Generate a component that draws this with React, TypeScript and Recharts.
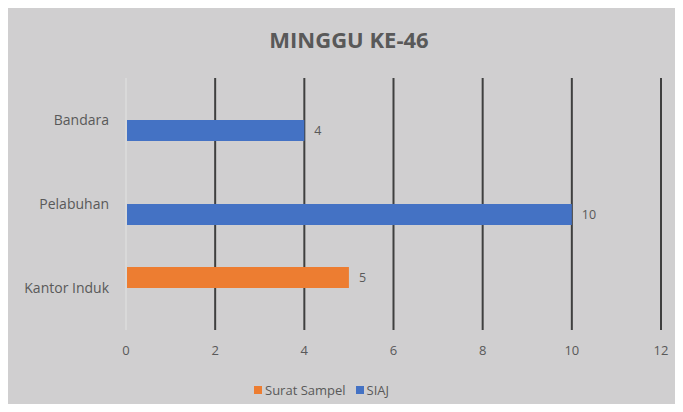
import { BarChart, Bar, XAxis, YAxis, CartesianGrid, LabelList } from "recharts";

const categories = ["Bandara", "Pelabuhan", "Kantor Induk"];
const suratSampel = [null, null, 5];
const siaj = [4, 10, null];
const xTicks = [0, 2, 4, 6, 8, 10, 12];

const data = categories.map((name, i) => ({
  name,
  "Surat Sampel": suratSampel[i],
  SIAJ: siaj[i],
}));

const ORANGE = "#ed7d31";
const BLUE = "#4472c4";
const TEXT = "#595959";
const FONT = "'Open Sans', sans-serif";

const renderValue = (props: any) => {
  const { x, y, width, height, value } = props;
  if (value === null || value === undefined) return null;
  return (
    <text
      x={x + width + 10}
      y={y + height / 2}
      dy="0.35em"
      fill={TEXT}
      fontSize={12.5}
      fontFamily={FONT}
    >
      {value}
    </text>
  );
};

export default function App() {
  return (
    <div
      style={{
        position: "relative",
        margin: -8,
        width: 683,
        height: 412,
        overflow: "hidden",
        background: "linear-gradient(90deg, #c6dcd7 0%, #eef3f2 30%, #f4f6f6 100%)",
        fontFamily: FONT,
      }}
    >
      <div
        style={{
          position: "absolute",
          left: 6,
          top: 7,
          width: 677,
          height: 405,
          background: "#d0cfd0",
        }}
      >
        <div
          style={{
            position: "absolute",
            left: 0,
            top: 17,
            width: 686,
            textAlign: "center",
            fontSize: 22,
            fontWeight: 700,
            color: TEXT,
          }}
        >
          MINGGU KE-46
        </div>
        <BarChart
          width={677}
          height={405}
          data={data}
          layout="vertical"
          margin={{ top: 71, right: 22, bottom: 52, left: 10 }}
          barCategoryGap="25%"
          barGap={0}
        >
          <CartesianGrid horizontal={false} stroke="#3f3f3f" strokeWidth={2} />
          <XAxis
            type="number"
            domain={[0, 12]}
            ticks={xTicks}
            axisLine={false}
            tickLine={false}
            tickMargin={10}
            height={30}
            tick={{ fill: TEXT, fontSize: 13, fontFamily: FONT }}
          />
          <YAxis
            type="category"
            dataKey="name"
            width={110}
            tickLine={false}
            tickSize={0}
            tickMargin={17}
            axisLine={{ stroke: "#d9d9d9", strokeWidth: 2 }}
            tick={{ fill: TEXT, fontSize: 14, fontFamily: FONT }}
          />
          <Bar dataKey="Surat Sampel" fill={ORANGE} isAnimationActive={false}>
            <LabelList dataKey="Surat Sampel" content={renderValue} />
          </Bar>
          <Bar dataKey="SIAJ" fill={BLUE} isAnimationActive={false}>
            <LabelList dataKey="SIAJ" content={renderValue} />
          </Bar>
        </BarChart>
        <div
          style={{
            position: "absolute",
            left: 248,
            top: 374,
            display: "flex",
            alignItems: "center",
            fontSize: 13,
            color: TEXT,
          }}
        >
          <span style={{ width: 8, height: 8, background: ORANGE, marginRight: 3 }} />
          <span style={{ marginRight: 10 }}>Surat Sampel</span>
          <span style={{ width: 8, height: 8, background: BLUE, marginRight: 3 }} />
          <span>SIAJ</span>
        </div>
      </div>
    </div>
  );
}
